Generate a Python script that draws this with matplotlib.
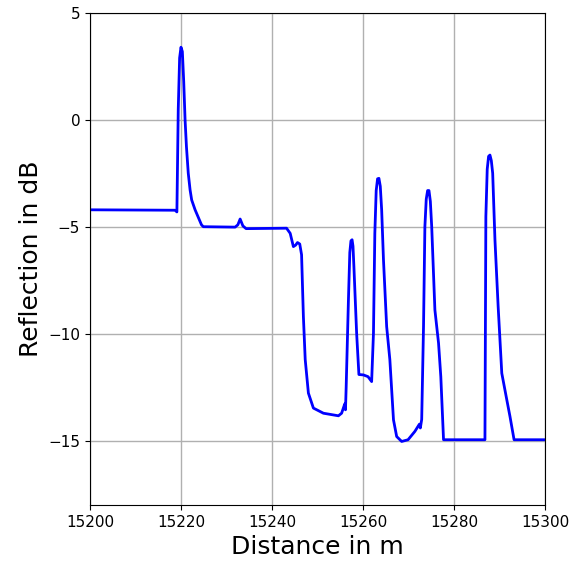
import matplotlib.pyplot as plt

# OTDR-style reflection trace
distance = [15200.0, 15218.7, 15219.1, 15219.4, 15219.7, 15220.0, 15220.3, 15220.6,
            15220.9, 15221.2, 15221.6, 15222.0, 15222.35, 15223.1, 15224.5, 15224.9,
            15231.9, 15232.5, 15233.0, 15233.6, 15234.3, 15243.2, 15244.0, 15244.7,
            15245.2, 15245.6, 15246.1, 15246.5, 15246.9, 15247.3, 15248.0, 15249.1,
            15251.3, 15253.5, 15254.6, 15255.3, 15256.0, 15256.15, 15256.3, 15256.8,
            15257.1, 15257.35, 15257.6, 15257.8, 15258.0, 15258.6, 15259.1, 15260.1,
            15261.1, 15261.9, 15262.3, 15262.6, 15262.9, 15263.2, 15263.5, 15263.8,
            15264.1, 15264.5, 15265.2, 15265.9, 15266.7, 15267.4, 15268.5, 15269.9,
            15271.4, 15272.4, 15272.6, 15272.9, 15273.3, 15273.6, 15273.9, 15274.2,
            15274.5, 15274.8, 15275.1, 15275.8, 15276.6, 15277.1, 15277.7, 15286.8,
            15287.0, 15287.3, 15287.6, 15287.9, 15288.2, 15288.5, 15289.0, 15289.7,
            15290.5, 15291.6, 15292.3, 15293.2, 15300.0]
reflection = [-4.2, -4.22, -4.3, 0.5, 2.9, 3.4, 3.2, 1.8,
              0.0, -1.25, -2.49, -3.27, -3.74, -4.2, -4.9, -4.99,
              -5.01, -4.9, -4.63, -4.95, -5.08, -5.06, -5.3, -5.92,
              -5.85, -5.73, -5.8, -6.3, -9.19, -11.2, -12.77, -13.47,
              -13.71, -13.79, -13.83, -13.71, -13.27, -13.55, -12.5, -8.41,
              -6.2, -5.65, -5.6, -5.9, -6.85, -9.97, -11.9, -11.92,
              -12.0, -12.23, -9.97, -5.3, -3.3, -2.75, -2.73, -3.1,
              -4.2, -6.54, -9.66, -11.2, -14.02, -14.8, -15.03, -14.95,
              -14.56, -14.22, -14.4, -14.0, -9.66, -4.99, -3.7, -3.3,
              -3.3, -3.8, -4.99, -8.88, -10.43, -12.0, -14.95, -14.95,
              -4.52, -2.3, -1.7, -1.64, -1.9, -2.49, -5.61, -8.72,
              -11.84, -13.08, -13.86, -14.95, -14.95]

fig = plt.figure(figsize=(5.79, 5.66), dpi=100)
ax = fig.add_axes([0.1554, 0.1078, 0.7859, 0.8692])
ax.plot(distance, reflection, color='blue', linewidth=2)

ax.set_xlim(15200, 15300)
ax.set_ylim(-18, 5)
ax.set_xticks([15200, 15220, 15240, 15260, 15280, 15300])
ax.set_yticks([5, 0, -5, -10, -15])
ax.tick_params(labelsize=11)
ax.set_xlabel('Distance in m', fontsize=18)
ax.set_ylabel('Reflection in dB', fontsize=18)
ax.grid(True, color='#b0b0b0', linewidth=1)

fig.savefig('out.png', dpi=100)
